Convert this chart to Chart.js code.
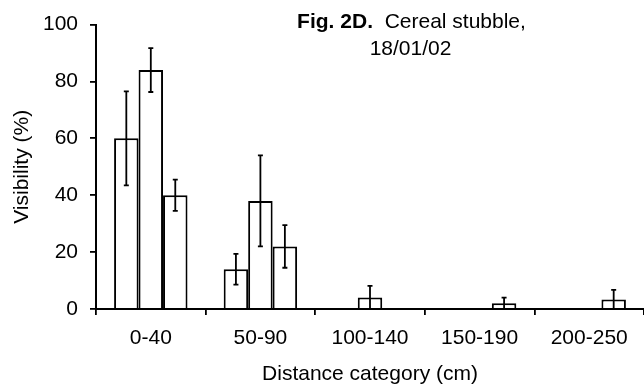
<!DOCTYPE html>
<html>
<head>
<meta charset="utf-8">
<script src="https://cdn.jsdelivr.net/npm/chart.js@4/dist/chart.umd.min.js"></script>
<style>
  html, body { margin: 0; padding: 0; background: #fff; }
  #wrap { width: 644px; height: 388px; position: relative; }
</style>
</head>
<body>
<div id="wrap"><canvas id="c" width="644" height="388"></canvas></div>
<script>
// ---- data ----
const categories = ['0-40', '50-90', '100-140', '150-190', '200-250'];
const barA = [60, 14, 0, 0, 0];
const barB = [84, 38, 4, 0, 0];
const barC = [40, 22, 0, 2, 3.3];
const errA = [16.5, 5.4, 0, 0, 0];
const errB = [7.7, 16, 4.1, 0, 0];
const errC = [5.5, 7.5, 0, 2, 3.4];
const yTicks = [0, 20, 40, 60, 80, 100];
const titleBold = 'Fig. 2D.';
const titleRest = '  Cereal stubble,';
const titleLine2 = '18/01/02';
const xTitle = 'Distance category (cm)';
const yTitle = 'Visibility (%)';

const FONT = "'Liberation Sans', Arial, sans-serif";
const FS = 21;

const errorBars = {
  id: 'errorBars',
  afterDatasetsDraw(chart) {
    const ctx = chart.ctx;
    const y = chart.scales.y;
    const errs = [errA, errB, errC];
    ctx.save();
    ctx.strokeStyle = '#000';
    ctx.lineWidth = 1.8;
    chart.data.datasets.forEach((ds, di) => {
      const meta = chart.getDatasetMeta(di);
      meta.data.forEach((bar, i) => {
        const e = errs[di][i];
        const v = ds.data[i];
        if (!e) return;
        const hi = y.getPixelForValue(v + e);
        const lo = y.getPixelForValue(Math.max(0, v - e));
        const x = bar.x;
        ctx.beginPath();
        ctx.moveTo(x, hi); ctx.lineTo(x, lo);
        ctx.moveTo(x - 2.5, hi); ctx.lineTo(x + 2.5, hi);
        if (v - e > 0) { ctx.moveTo(x - 2.5, lo); ctx.lineTo(x + 2.5, lo); }
        ctx.stroke();
      });
    });
    ctx.restore();
  }
};

const titlePlugin = {
  id: 'figTitle',
  afterDraw(chart) {
    const ctx = chart.ctx;
    ctx.save();
    ctx.fillStyle = '#000';
    ctx.textBaseline = 'alphabetic';
    ctx.font = `bold ${FS}px ${FONT}`;
    const wb = ctx.measureText(titleBold).width;
    ctx.font = `${FS}px ${FONT}`;
    const wr = ctx.measureText(titleRest).width;
    const cx = 411.5;
    const x0 = cx - (wb + wr) / 2;
    ctx.font = `bold ${FS}px ${FONT}`;
    ctx.textAlign = 'left';
    ctx.fillText(titleBold, x0, 28);
    ctx.font = `${FS}px ${FONT}`;
    ctx.fillText(titleRest, x0 + wb, 28);
    ctx.textAlign = 'center';
    ctx.fillText(titleLine2, 410.5, 55);
    ctx.restore();
  }
};

const mk = (d) => ({
  data: d,
  backgroundColor: '#fff',
  borderColor: '#000',
  borderWidth: 2,
  borderSkipped: 'start',
  categoryPercentage: 0.67,
  barPercentage: 1.0
});

new Chart(document.getElementById('c'), {
  type: 'bar',
  data: { labels: categories, datasets: [mk(barA), mk(barB), mk(barC)] },
  options: {
    responsive: false,
    animation: false,
    devicePixelRatio: 1,
    layout: { padding: { top: 24, right: 0, left: 0, bottom: 0 } },
    plugins: { legend: { display: false }, tooltip: { enabled: false } },
    scales: {
      x: {
        offset: true,
        grid: { display: true, drawOnChartArea: false, drawTicks: true, tickLength: 6, color: '#000', lineWidth: 1.8, offset: true },
        border: { display: true, color: '#000', width: 2 },
        ticks: { color: '#000', font: { family: FONT, size: FS }, padding: 11, maxRotation: 0 },
        title: { display: true, text: xTitle, color: '#000', font: { family: FONT, size: FS }, padding: { top: 0, bottom: 1 } },
        afterFit(s) { s.height = 79; }
      },
      y: {
        min: 0, max: 100,
        afterBuildTicks(s) { s.ticks = yTicks.map(v => ({ value: v })); },
        grid: { display: true, drawOnChartArea: false, drawTicks: true, tickLength: 6, color: '#000', lineWidth: 1.8 },
        border: { display: true, color: '#000', width: 2 },
        ticks: { color: '#000', font: { family: FONT, size: FS }, padding: 12 },
        title: { display: true, text: yTitle, color: '#000', font: { family: FONT, size: FS }, padding: { top: 10, bottom: 0 } },
        afterFit(s) { s.width = 96; }
      }
    }
  },
  plugins: [errorBars, titlePlugin]
});
</script>
</body>
</html>
